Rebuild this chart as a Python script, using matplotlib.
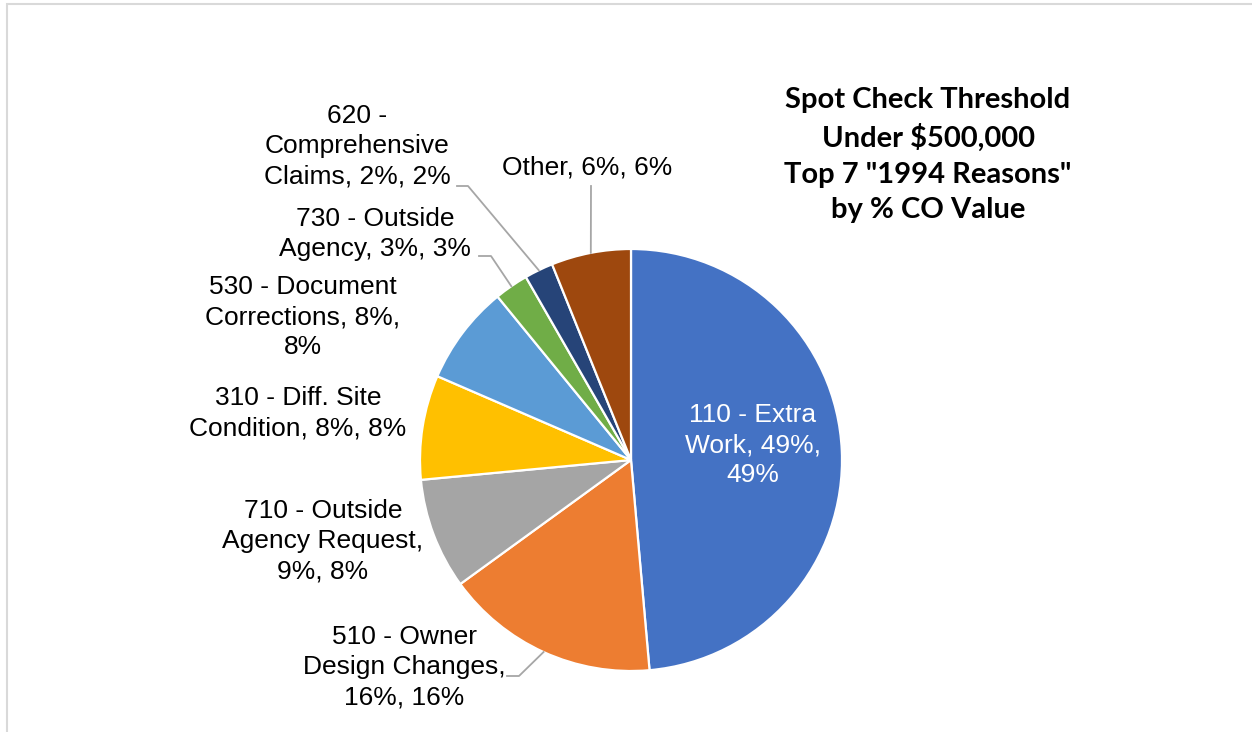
import matplotlib.pyplot as plt
import numpy as np
from matplotlib.patches import Rectangle

W, H = 1252, 732

# slices, clockwise from 12 o'clock
reasons = ['110 - Extra Work', '510 - Owner Design Changes', '710 - Outside Agency Request',
           '310 - Diff. Site Condition', '530 - Document Corrections', '730 - Outside Agency',
           '620 - Comprehensive Claims', 'Other']
share = [48.6, 16.4, 8.5, 8.0, 7.6, 2.6, 2.2, 6.1]
label_text = ['110 - Extra\nWork, 49%,\n49%',
              '510 - Owner\nDesign Changes,\n16%, 16%',
              '710 - Outside\nAgency Request,\n9%, 8%',
              '310 - Diff. Site\nCondition, 8%, 8%',
              '530 - Document\nCorrections, 8%,\n8%',
              '730 - Outside\nAgency, 3%, 3%',
              '620 -\nComprehensive\nClaims, 2%, 2%',
              'Other, 6%, 6%']
colors = ['#4472C4', '#ED7D31', '#A5A5A5', '#FFC000', '#5B9BD5', '#70AD47', '#264478', '#9E480E']
title_lines = 'Spot Check Threshold\nUnder $500,000\nTop 7 "1994 Reasons"\nby % CO Value'

# label centres in pixels (x, y from top)
label_pos = [(753, 445), (404, 667), (323, 541), (298, 413), (303, 317),
             (375, 234), (357, 146), (587, 168)]
# elbow of leader line, pixels (None = no leader)
leader_start = [None, [(507, 676), (519, 676)], None, None, None,
                [(479, 256), (491, 256)], [(457, 186), (468, 186)], [(591, 186)]]

cx, cy, r = 631, 460, 211

fig = plt.figure(figsize=(W / 100, H / 100), dpi=100)
ax = fig.add_axes([(cx - r) / W, (H - cy - r) / H, 2 * r / W, 2 * r / H])
wedges, _ = ax.pie(share, colors=colors, startangle=90, counterclock=False, radius=1,
                   wedgeprops=dict(edgecolor='white', linewidth=1.6))
ax.set_xlim(-1, 1)
ax.set_ylim(-1, 1)
ax.axis('off')


def to_data(p):
    return ((p[0] - cx) / r, (cy - p[1]) / r)


for i, w in enumerate(wedges):
    x, y = to_data(label_pos[i])
    col = 'white' if i == 0 else 'black'
    ax.text(x, y, label_text[i], ha='center', va='center', fontsize=19,
            family='Liberation Sans', color=col, linespacing=1.34, clip_on=False)
    if leader_start[i] is not None:
        mid = np.deg2rad((w.theta1 + w.theta2) / 2)
        pts = [to_data(p) for p in leader_start[i]] + [(np.cos(mid), np.sin(mid))]
        xs, ys = zip(*pts)
        ax.plot(xs, ys, color='#A6A6A6', lw=1.3, clip_on=False)

fig.text(928 / W, 1 - 155 / H, title_lines, ha='center', va='center', fontsize=21,
         family='Lato', weight='bold', linespacing=1.47)

fig.patches.append(Rectangle((7 / W, -0.1), 1.2, 1.1 - 4 / H, transform=fig.transFigure,
                             fill=False, edgecolor='#D9D9D9', lw=1.5))

fig.savefig('out.png', dpi=100)
